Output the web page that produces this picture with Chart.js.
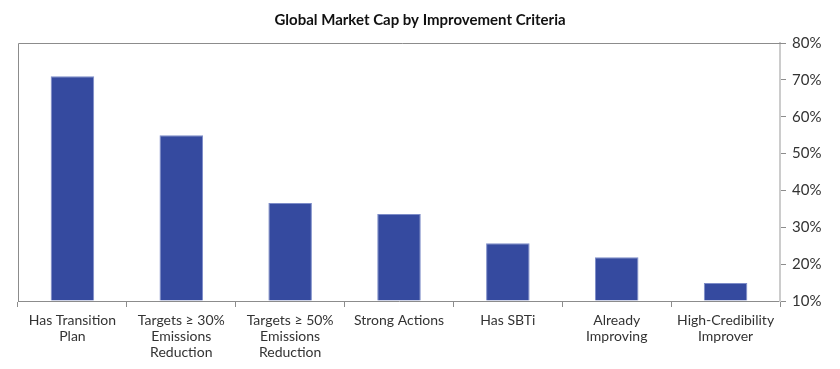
<!DOCTYPE html>
<html>
<head>
<meta charset="utf-8">
<script src="https://cdn.jsdelivr.net/npm/chart.js@4.4.1/dist/chart.umd.min.js"></script>
<style>
  html, body { margin: 0; padding: 0; background: #fff; }
  #chartDiv { width: 840px; height: 369px; }
</style>
</head>
<body>
<div id="chartDiv"><canvas id="myChart"></canvas></div>
<script>
const canvas = document.getElementById('myChart');

Chart.defaults.font.family = 'Lato, "Open Sans", sans-serif';
Chart.defaults.color = '#333';

const chartName = 'Global Market Cap by Improvement Criteria';
const labels = [
    ['Has Transition', 'Plan'],
    ['Targets \u2265 30%', 'Emissions', 'Reduction'],
    ['Targets \u2265 50%', 'Emissions', 'Reduction'],
    'Strong Actions',
    'Has SBTi',
    ['Already', 'Improving'],
    ['High-Credibility', 'Improver']
];
const data = [71.0, 55.0, 36.6, 33.6, 25.7, 21.9, 14.9];
const yTicks = [10, 20, 30, 40, 50, 60, 70, 80];

// top and left frame lines
const framePlugin = {
    id: 'frame',
    afterDraw(chart) {
        const { ctx, chartArea: a } = chart;
        ctx.save();
        ctx.strokeStyle = '#8c8c8c';
        ctx.lineWidth = 1;
        ctx.beginPath();
        ctx.moveTo(a.left + 0.5, a.bottom);
        ctx.lineTo(a.left + 0.5, a.top + 0.5);
        ctx.lineTo(a.right + 6, a.top + 0.5);
        ctx.stroke();
        ctx.restore();
    }
};

const config = {
    type: 'bar',
    data: {
        labels: labels,
        datasets: [{
            label: chartName,
            data: data,
            base: 10,
            backgroundColor: '#354a9f',
            borderColor: '#7d8cc8',
            borderWidth: 1,
            barPercentage: 0.4,
            categoryPercentage: 1.0
        }]
    },
    options: {
        animation: false,
        responsive: true,
        maintainAspectRatio: false,
        plugins: {
            legend: { display: false },
            tooltip: { enabled: false },
            title: {
                display: true,
                text: chartName,
                color: '#111',
                font: { size: 15, weight: 'bold' },
                padding: { top: 11, bottom: 14 }
            }
        },
        scales: {
            x: {
                grid: {
                    offset: true,
                    drawOnChartArea: false,
                    drawTicks: true,
                    tickLength: 6,
                    color: '#8c8c8c'
                },
                border: { color: '#8c8c8c', width: 1 },
                ticks: {
                    padding: 5,
                    maxRotation: 0,
                    autoSkip: false,
                    font: { size: 14, lineHeight: 1.15 },
                    color: '#333'
                },
                afterFit(scale) { scale.height = 68; }
            },
            y: {
                position: 'right',
                min: 10,
                max: 80,
                afterBuildTicks(scale) {
                    scale.ticks = yTicks.map(v => ({ value: v }));
                },
                grid: {
                    drawOnChartArea: false,
                    drawTicks: true,
                    tickLength: 6,
                    color: '#8c8c8c'
                },
                border: { color: '#cccccc', width: 2 },
                ticks: {
                    padding: 6,
                    font: { size: 15 },
                    color: '#333',
                    callback: v => v + '%'
                },
                afterFit(scale) { scale.width = 60; }
            },
            // empty spacer on the left so the title stays centred on the page
            yLeft: {
                type: 'linear',
                position: 'left',
                grid: { display: false, drawTicks: false },
                border: { display: false },
                ticks: { display: false },
                afterFit(scale) { scale.width = 18; }
            }
        }
    },
    plugins: [framePlugin]
};

const myChart = new Chart(canvas, config);
</script>
</body>
</html>
